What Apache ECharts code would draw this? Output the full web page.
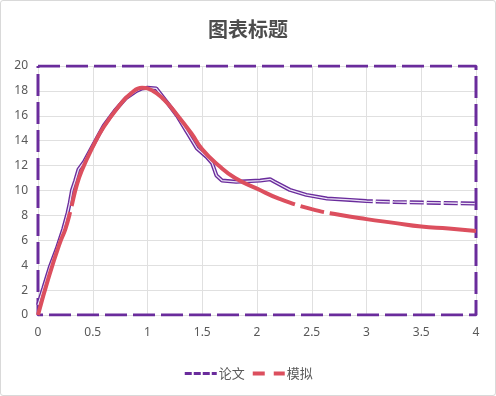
<!DOCTYPE html>
<html><head><meta charset="utf-8">
<script src="https://cdn.jsdelivr.net/npm/echarts@6/dist/echarts.min.js"></script>
<style>
html,body{margin:0;padding:0;background:#fff;}
#wrap{position:absolute;left:0;top:0;width:494px;height:394px;border:1px solid #d9d9d9;border-radius:3px;}
#c{width:494px;height:394px;}
</style></head>
<body><div id="wrap"><div id="c"></div></div>
<script>
// 论文 series
const paperX = [0,0.05,0.11,0.17,0.23,0.27,0.29,0.31,0.34,0.37,0.42,0.5,0.6,0.7,0.8,0.9,0.95,1.0,1.08,1.19,1.27,1.36,1.45,1.54,1.59,1.63,1.68,1.81,2.03,2.12,2.16,2.3,2.45,2.64,2.85,3.0,3.25,3.52,4.0];
const paperY = [0.8,2.2,3.9,5.3,6.9,8.2,9.0,10.0,10.8,11.7,12.3,13.6,15.2,16.4,17.4,18.0,18.2,18.25,18.2,16.95,16.0,14.7,13.4,12.7,12.2,11.2,10.8,10.7,10.8,10.9,10.7,10.05,9.65,9.35,9.24,9.15,9.08,9.03,8.95];
// 模拟 series
const simX = [0,0.1,0.2,0.25,0.3,0.35,0.4,0.5,0.6,0.75,0.85,0.95,1.05,1.15,1.25,1.4,1.5,1.65,1.8,2.0,2.2,2.5,2.75,3.0,3.25,3.5,3.75,4.0];
const simY = [0,3.1,5.8,6.9,8.5,10.3,11.6,13.5,15.1,16.9,17.8,18.25,18.0,17.3,16.3,14.6,13.3,12.0,11.0,10.15,9.35,8.5,8.05,7.7,7.4,7.1,6.95,6.75];
// frame of the 论文 figure (digitized axes box)
const frameX = [0,4,4,0,0];
const frameY = [20,20,0,0,20];
const seriesNames = ['论文','模拟'];
const titleText = '图表标题';

const zip = (xs, ys) => xs.map((x,i)=>[x, ys[i]]);
const purple = '#6a2c9c';
const red = '#dc4f5e';
const paperDash = [530, 3, 14, 3, 14, 3, 14, 3, 14, 3, 14, 3, 14, 3, 14, 3, 14, 3, 14, 3, 14, 3, 14, 3, 400, 0];
const simDash = [108, 6, 340, 6, 24, 6, 2000, 0];

const chart = echarts.init(document.getElementById('c'));
chart.setOption({
  animation:false,
  title:{text:titleText,left:'center',top:13,textStyle:{fontFamily:'Noto Sans CJK SC',fontSize:20,fontWeight:'bold',color:'#4d4d4d'}},
  grid:{left:37,right:19,top:65,bottom:80},
  legend:{bottom:10,left:'center',itemWidth:32,itemHeight:10,itemGap:6,
    itemStyle:{opacity:0},
    data:[
      {name:seriesNames[0],lineStyle:{type:[7,2],width:3}},
      {name:seriesNames[1],lineStyle:{type:[12,9],width:4}}
    ],
    textStyle:{fontFamily:'Noto Sans CJK SC',fontSize:13,color:'#595959',padding:[0,0,0,-3]}},
  xAxis:{type:'value',min:0,max:4,interval:0.5,
    axisLine:{show:false},axisTick:{show:false},
    axisLabel:{color:'#595959',fontSize:12,fontFamily:'Noto Sans',margin:12},
    splitLine:{lineStyle:{color:'#e0e0e0',width:1}}},
  yAxis:{type:'value',min:0,max:20,interval:2,
    axisLine:{show:false},axisTick:{show:false},
    axisLabel:{color:'#595959',fontSize:12,fontFamily:'Noto Sans',margin:10},
    splitLine:{lineStyle:{color:'#e0e0e0',width:1}}},
  series:[
    {name:seriesNames[0],type:'line',data:zip(frameX,frameY),symbol:'none',silent:true,
      lineStyle:{color:purple,width:3,type:[22,6]},itemStyle:{color:purple},z:2},
    {name:seriesNames[0],type:'line',data:zip(paperX,paperY),symbol:'none',
      lineStyle:{color:purple,width:4,type:paperDash},itemStyle:{color:purple},z:3},
    {name:'inner',type:'line',data:zip(paperX,paperY),symbol:'none',silent:true,
      lineStyle:{color:'#ece4f6',width:1.3,type:paperDash},z:4},
    {name:seriesNames[1],type:'line',data:zip(simX,simY),symbol:'none',smooth:0.5,
      lineStyle:{color:red,width:4,type:simDash},itemStyle:{color:red},z:5}
  ]
});
</script></body></html>
